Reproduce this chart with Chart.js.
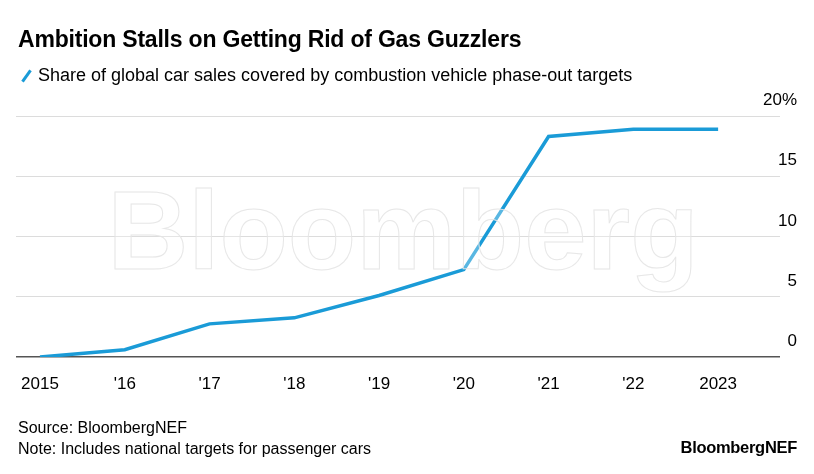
<!DOCTYPE html>
<html>
<head>
<meta charset="utf-8">
<script src="https://cdn.jsdelivr.net/npm/chart.js@4.4.0/dist/chart.umd.min.js"></script>
<style>
  html, body { margin: 0; padding: 0; background: #fff; }
  body { width: 814px; height: 474px; position: relative; overflow: hidden; font-family: "Liberation Sans", Arial, sans-serif; color: #000; }
  #chart-wrap { position: absolute; left: 0; top: 0; width: 814px; height: 474px; }
  .title { position: absolute; left: 18px; top: 26px; font-family: "Liberation Sans Narrow", "Liberation Sans", sans-serif; font-weight: bold; font-size: 23px; letter-spacing: -0.2px; }
  .legend { position: absolute; left: 20px; top: 65px; font-size: 18px; display: flex; align-items: center; }
  .legend-mark { display: inline-block; width: 3px; height: 14px; background: #1a9bd7; transform: rotate(35deg); margin: 0 10px 0 5px; }
  .footer { position: absolute; left: 18px; top: 417px; font-size: 16px; line-height: 21px; }
  .brand { position: absolute; right: 17px; top: 438px; font-size: 16.5px; font-weight: bold; letter-spacing: -0.3px; }
</style>
</head>
<body>
<div id="chart-wrap"><canvas id="main-chart"></canvas></div>
<div class="title">Ambition Stalls on Getting Rid of Gas Guzzlers</div>
<div class="legend"><span class="legend-mark"></span>Share of global car sales covered by combustion vehicle phase-out targets</div>
<div class="footer">Source: BloombergNEF<br>Note: Includes national targets for passenger cars</div>
<div class="brand">BloombergNEF</div>
<script>
const years = [2015, 2016, 2017, 2018, 2019, 2020, 2021, 2022, 2023];
const shareValues = [0, 0.6, 2.75, 3.25, 5.1, 7.25, 18.3, 18.9, 18.9];
const xTickLabels = ['2015', "'16", "'17", "'18", "'19", "'20", "'21", "'22", '2023'];
const yTicks = [0, 5, 10, 15, 20];
const yTickLabels = ['0', '5', '10', '15', '20%'];

const lineColor = '#1a9bd7';

// y labels sit above their grid lines, right-aligned
const yLabelPlugin = {
    id: 'yLabels',
    afterDraw(chart) {
        const { ctx, scales: { y } } = chart;
        ctx.save();
        ctx.font = '17px "Liberation Sans", Arial, sans-serif';
        ctx.fillStyle = '#000';
        ctx.textAlign = 'right';
        ctx.textBaseline = 'bottom';
        yTicks.forEach((v, i) => {
            ctx.fillText(yTickLabels[i], 797, y.getPixelForValue(v) - 7);
        });
        ctx.restore();
    }
};

// faint watermark over the plot
const watermarkPlugin = {
    id: 'watermark',
    afterDatasetsDraw(chart) {
        const { ctx } = chart;
        ctx.save();
        ctx.font = 'bold 112px "Liberation Sans", Arial, sans-serif';
        ctx.textAlign = 'center';
        ctx.textBaseline = 'alphabetic';
        ctx.fillStyle = 'rgba(255,255,255,0.28)';
        ctx.fillText('Bloomberg', 403, 269);
        ctx.strokeStyle = 'rgba(228,228,228,0.9)';
        ctx.lineWidth = 1;
        ctx.strokeText('Bloomberg', 403, 269);
        ctx.restore();
    }
};

new Chart(document.getElementById('main-chart'), {
    type: 'line',
    data: {
        datasets: [{
            data: years.map((yr, i) => ({ x: yr, y: shareValues[i] })),
            borderColor: lineColor,
            borderWidth: 3.5,
            pointRadius: 0,
            tension: 0,
            fill: false
        }]
    },
    options: {
        responsive: true,
        maintainAspectRatio: false,
        animation: false,
        layout: { padding: { left: 16, top: 116, right: 0, bottom: 0 } },
        plugins: { legend: { display: false }, tooltip: { enabled: false } },
        scales: {
            x: {
                type: 'linear',
                min: 2014.717,
                max: 2023.73,
                afterBuildTicks: scale => { scale.ticks = years.map(v => ({ value: v })); },
                afterFit: scale => { scale.height = 474 - 357; },
                grid: { display: false, drawTicks: false },
                border: { display: false },
                ticks: {
                    autoSkip: false,
                    maxRotation: 0,
                    padding: 17,
                    color: '#000',
                    font: { size: 17, family: '"Liberation Sans", Arial, sans-serif' },
                    callback: (v) => xTickLabels[years.indexOf(v)]
                }
            },
            y: {
                position: 'right',
                min: 0,
                max: 20,
                afterBuildTicks: scale => { scale.ticks = yTicks.map(v => ({ value: v })); },
                afterFit: scale => { scale.width = 814 - 780; },
                border: { display: false },
                grid: {
                    drawTicks: false,
                    color: ctx => ctx.tick && ctx.tick.value === 0 ? '#555' : '#dcdcdc',
                    lineWidth: ctx => ctx.tick && ctx.tick.value === 0 ? 1.5 : 1
                },
                ticks: { display: false }
            }
        }
    },
    plugins: [watermarkPlugin, yLabelPlugin]
});
</script>
</body>
</html>
